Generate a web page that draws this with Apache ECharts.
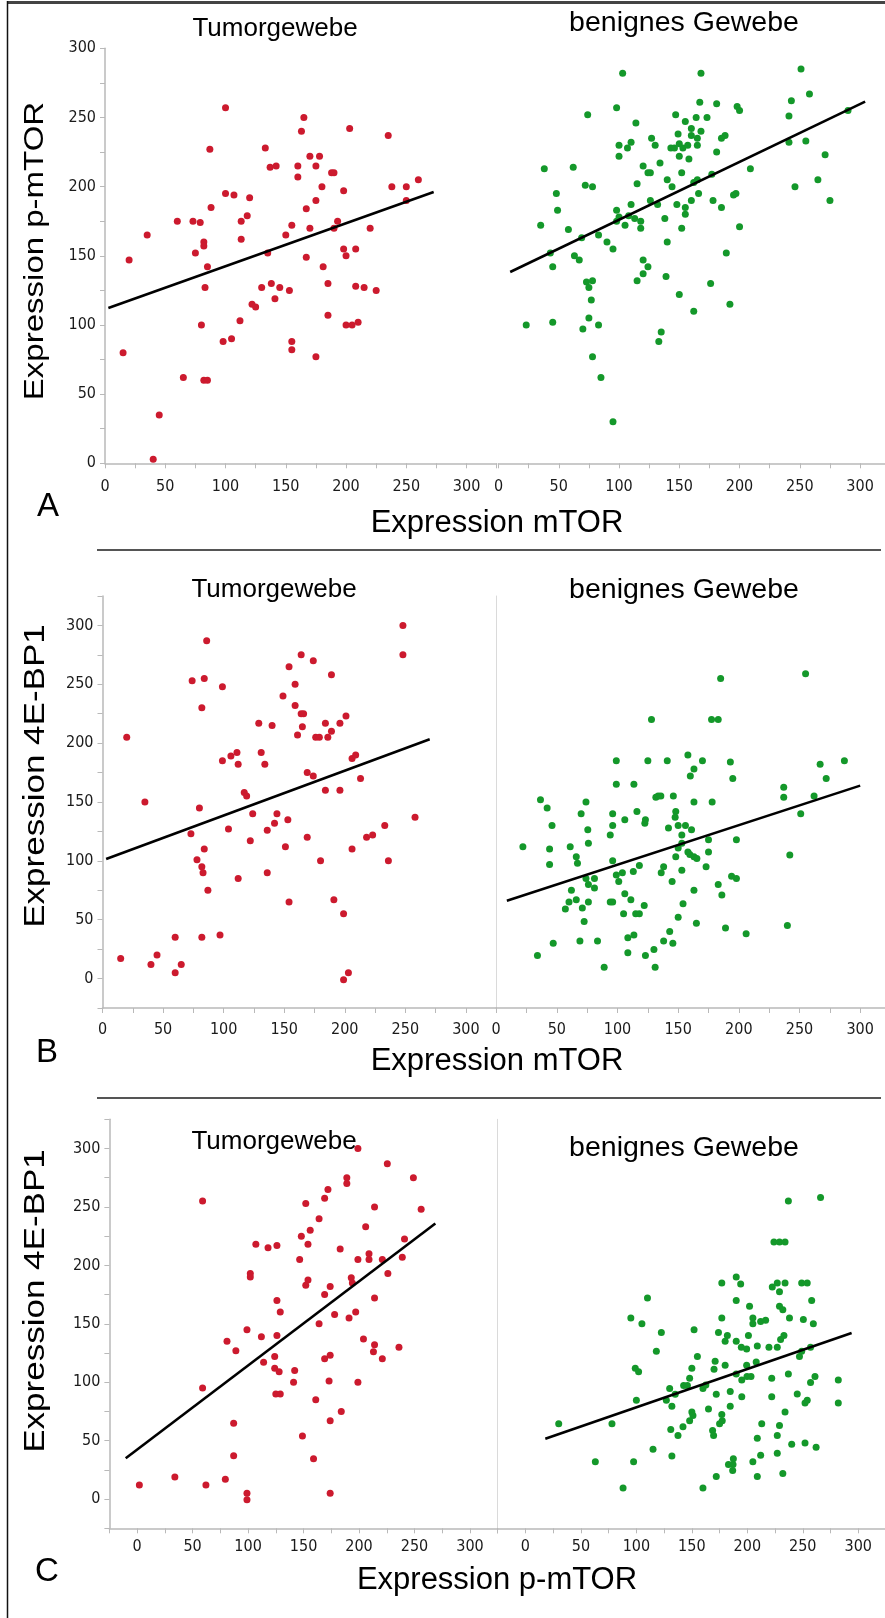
<!DOCTYPE html>
<html><head><meta charset="utf-8">
<script src="https://cdn.jsdelivr.net/npm/echarts@6/dist/echarts.min.js"></script>
<style>html,body{margin:0;padding:0;background:#fff}#c{width:885px;height:1618px}</style>
</head><body><div id="c"></div>
<script>
// ---- data (x, y) ----
const tumorA = [[100,257],[165,250],[163,240],[203,242],[235,237],[87,227],[133,228],[170,222],[178,222],[137,214],[142,215],[160,215],[175,215],[160,207],[188,210],[190,210],[180,200],[198,197],[238,200],[250,200],[260,205],[250,190],[100,195],[107,194],[120,192],[175,190],[88,185],[167,184],[60,175],[73,175],[79,174],[113,175],[118,179],[193,175],[190,170],[155,172],[170,170],[220,170],[35,165],[150,165],[82,160],[82,157],[113,162],[75,152],[135,152],[167,149],[198,155],[208,155],[200,150],[20,147],[85,142],[181,142],[83,127],[130,127],[138,130],[145,127],[153,125],[185,130],[208,128],[215,127],[225,125],[122,115],[125,113],[141,119],[185,107],[80,100],[112,103],[200,100],[205,100],[210,102],[98,88],[105,90],[155,88],[155,82],[175,77],[15,80],[65,62],[82,60],[85,60],[45,35],[40,3]];
const fitTumorA = [[2.8,112.3],[272.7,196.1]];

const benignA = [[103,282],[168,282],[251,285],[258,267],[243,262],[241,251],[290,255],[98,257],[74,252],[167,261],[181,260],[198,258],[200,255],[147,252],[155,247],[164,250],[173,250],[114,246],[160,242],[168,240],[160,237],[149,238],[165,235],[188,237],[185,235],[127,235],[110,232],[100,230],[107,228],[130,230],[143,228],[146,228],[150,231],[153,228],[157,230],[165,230],[100,222],[150,222],[158,220],[181,225],[241,232],[255,233],[271,223],[38,213],[62,214],[120,215],[124,210],[126,210],[134,217],[152,210],[177,209],[209,213],[72,201],[78,200],[115,202],[140,205],[144,200],[162,203],[165,205],[246,200],[265,205],[48,195],[166,195],[195,194],[197,195],[275,190],[49,183],[98,183],[110,187],[126,190],[132,187],[148,187],[160,190],[178,190],[185,185],[155,185],[155,180],[35,172],[58,169],[98,175],[100,178],[105,172],[108,179],[113,177],[118,175],[118,170],[138,177],[152,170],[200,171],[69,163],[83,165],[90,160],[95,155],[140,160],[43,152],[63,150],[67,147],[45,142],[120,147],[124,142],[120,137],[115,132],[139,135],[189,152],[73,131],[78,132],[75,127],[77,118],[176,130],[150,122],[192,115],[162,110],[23,100],[45,102],[75,105],[70,97],[83,100],[135,95],[133,88],[78,77],[85,62],[95,30]];
const fitBenignA = [[9.7,138.3],[304.2,261.5]];

const tumorB = [[248,300],[248,275],[86,287],[164,275],[174,270],[154,265],[189,258],[74,253],[84,255],[99,248],[159,250],[149,240],[82,230],[159,232],[164,225],[166,225],[129,217],[140,215],[165,214],[184,217],[196,217],[201,223],[161,207],[176,205],[179,205],[186,205],[189,210],[20,205],[99,185],[106,189],[111,192],[112,182],[131,192],[134,182],[206,187],[209,190],[169,175],[174,172],[213,170],[117,158],[119,155],[184,160],[196,160],[35,150],[80,145],[124,140],[144,140],[142,132],[153,135],[258,137],[233,130],[73,123],[104,127],[136,126],[122,117],[169,120],[218,120],[223,122],[151,112],[84,110],[206,110],[78,101],[180,100],[236,100],[82,95],[83,90],[136,90],[112,85],[87,75],[154,65],[191,67],[199,55],[60,35],[82,35],[97,37],[15,17],[40,12],[45,20],[65,12],[60,5],[199,-1],[203,5]];
const fitTumorB = [[3,101.5],[270.1,203.3]];

const benignB = [[255,259],[185,255],[128,220],[177.5,220],[183,220],[99,185],[125,185],[141,185],[158,190],[170,185],[193,184],[287,185],[267,182],[163,178],[160,172],[195,170],[272,170],[99,165],[113.5,165],[237,162.5],[237,154],[262,155],[36.5,152],[131.6,154],[133.5,155],[135.7,155],[146,155],[42,145],[74,150],[163,150],[178,150],[70,140],[96,140],[116,142],[148,142],[147.5,137],[251,140],[46,130],[96,130],[106,135],[122.5,132],[123,135],[142,128],[150,130],[156,130],[75.5,126.5],[94,122],[153,122],[161,126.5],[175,118],[198,118],[22,112],[44,110],[61,112],[76,115],[150,111],[153,115],[66,103.5],[44,97],[67,98],[96,100],[148,103.5],[158,107.5],[159.6,105.5],[163,103.5],[165.4,102],[175,107.5],[242,105],[118,96],[138,95],[136,90],[153,92],[173,95],[99,88],[104,90],[113,91],[74,85],[81,85],[76,80],[81,77],[101,82.5],[145,82.5],[194,87],[198,85],[62,75],[106,72],[111,67],[163,75],[183,80],[186,71],[60,65],[66,67],[76,65],[94,65],[96,65],[57,59],[71,60],[122,62],[154,63.5],[72.5,48.5],[105,55],[115,55],[118,55],[150,52],[165,47],[189,43],[206,38],[240,45],[47,30],[69,32],[83.5,32],[108.5,34.6],[113.5,37],[138,32],[143,40],[145.6,30],[34,19.6],[108.5,22],[123,19.6],[130,24.7],[89,9.6],[131,9.6]];
const fitBenignB = [[8.8,66.1],[300,163.9]];

const tumorC = [[199,300],[225.5,287],[189,275],[189,270],[249,275],[172,265],[169,257.5],[59,255],[152,253],[214,250],[256,248],[164,240],[206,233],[156,230],[148,225],[241,222.5],[107,218],[118,215],[126,217],[154,218],[183,214],[209,210],[209,205],[199,205],[221,205],[239,207],[146.5,205],[102,193],[102,190],[226,193],[154,187.5],[152,183],[174,182],[193,189.5],[194,185],[169,175],[214,172],[126,170],[129,160],[178,158],[191,155],[197,160],[164,150],[99,145],[112,139],[126,140],[81,135],[89,127],[204,137],[214,132],[213,126],[236,130],[221,120],[124,122],[169,120],[174,123],[114,117],[124,112],[128,109],[142,110],[141,100],[173,101],[199,100],[59,95],[125,90],[129,90],[161,85],[184,75],[174,67],[87,65],[149,54],[87,37],[159,34.5],[34,19],[79.5,17],[2,12],[62,12],[99,5],[99,-0.5],[174,5]];
const fitTumorC = [[-10.3,35],[268.8,235.9]];

const benignC = [[266,258],[237,255],[224,220],[229,220],[234,220],[190,190],[177,185],[194,184],[227,185],[234,185],[249,185],[254,185],[222.5,181.5],[229,177.5],[110,172],[190,170],[202,165],[258,170],[229,165],[232,162],[95,155],[105,150],[177,155],[205,155],[205,150],[212,152],[216.5,153],[238,155],[250.5,153.6],[259.5,150],[122.5,142.5],[152,145],[174,142.5],[182,140],[201,140],[233,140],[230,136.5],[180,135],[190,135],[118,126.5],[194.6,130],[199.4,128.5],[209,131],[219.5,130],[227,130],[249,126.5],[257,130],[247,122],[155,122],[99,112],[102,109],[150,112],[171,118],[170,111],[180,114.5],[199.4,114.5],[208,117.4],[190,107],[195,102],[199.7,104.8],[203.3,104.8],[222,103.4],[237,107],[261,104.8],[282,102],[148,103.4],[130,94.6],[142.6,97.2],[146,97.2],[160,94.6],[162.6,97.7],[135,89.7],[172,89.7],[184.6,92],[222,87.5],[245,90],[257,99.7],[100,84.6],[127,84.6],[132,79.5],[195,87.5],[184.6,79.5],[252,82.3],[254,84.6],[282,82.3],[165,77],[150,74.6],[151,71.5],[148,67],[177,72.4],[234,74.6],[175,64.4],[177.4,67],[142,62],[131,59.5],[137.5,54.4],[168.7,58.7],[169.6,54.4],[213,64.4],[229,63],[227,54.4],[209,52],[30,64.4],[78,64.4],[115,42.7],[132,36.8],[63,32],[97.5,32],[240,47],[252,48],[262,44.4],[227,39.3],[212,37.6],[205,32],[183,29.6],[187.4,34.5],[187.1,29.6],[186.8,24.5],[172,19.4],[209,19.4],[232,22],[88,9.4],[160,9.4]];
const fitBenignC = [[17.9,51.6],[294,142.2]];

const xTickLabels = [0,50,100,150,200,250,300];
const yTickLabels = [0,50,100,150,200,250,300];
const panelTitles = ['Tumorgewebe','benignes Gewebe'];
const xTitles = ['Expression mTOR','Expression mTOR','Expression p-mTOR'];
const yTitles = ['Expression p-mTOR','Expression 4E-BP1','Expression 4E-BP1'];
const rowLetters = ['A','B','C'];

// ---- styling ----
const RED = '#cc1a2e', GREEN = '#14982a';
const AXC = '#b9b9b9';
const tickFont = '"Liberation Sans Narrow","DejaVu Sans Condensed",sans-serif';

const grids = [
  {left:105,   top:48.3,  width:391.7, height:415},   // A tumor
  {left:498.5, top:48.3,  width:391.7, height:415},   // A benign
  {left:102.5, top:596,   width:393.7, height:412},   // B tumor
  {left:496.2, top:596,   width:394.3, height:412},   // B benign
  {left:109.4, top:1119.3,width:388.3, height:409},   // C tumor
  {left:497.7, top:1119.3,width:388.3, height:409}    // C benign
].map(g => Object.assign({containLabel:false, outerBoundsMode:'none'}, g));

const xRanges = [[0,325],[0,325],[0,325],[0,325],[-25,325],[-25,325]];
const yRanges = [[0,300],[0,300],[-25,325],[-25,325],[-25,325],[-25,325]];
const xLabelMargin = [16,16,14,14,11,11];

function xAxis(i){
  return {type:'value', gridIndex:i, min:xRanges[i][0], max:xRanges[i][1], interval:25,
    axisLine:{show:true, onZero:false, lineStyle:{color:AXC, width:1.5}},
    axisTick:{show:true, length:5, lineStyle:{color:AXC, width:1}},
    axisLabel:{margin:xLabelMargin[i], color:'#1a1a1a', fontFamily:tickFont, fontSize:16,
      formatter:v => xTickLabels.indexOf(v) >= 0 ? String(v) : ''},
    splitLine:{show:false}};
}
function yAxis(i){
  const left = i % 2 === 0;
  if (left) return {type:'value', gridIndex:i, min:yRanges[i][0], max:yRanges[i][1], interval:25,
    axisLine:{show:true, onZero:false, lineStyle:{color:AXC, width:1.5}},
    axisTick:{show:true, length:5, lineStyle:{color:AXC, width:1}},
    axisLabel:{margin:9, color:'#1a1a1a', fontFamily:tickFont, fontSize:16,
      formatter:v => yTickLabels.indexOf(v) >= 0 ? String(v) : ''},
    splitLine:{show:false}};
  return {type:'value', gridIndex:i, min:yRanges[i][0], max:yRanges[i][1], interval:25,
    axisLine:{show:i !== 1, onZero:false, lineStyle:{color:'#dadada', width:1}},
    axisTick:{show:false}, axisLabel:{show:false}, splitLine:{show:false}};
}

const pointSets = [tumorA, benignA, tumorB, benignB, tumorC, benignC];
const fitSets = [fitTumorA, fitBenignA, fitTumorB, fitBenignB, fitTumorC, fitBenignC];

const series = [];
pointSets.forEach((d, i) => {
  series.push({type:'scatter', xAxisIndex:i, yAxisIndex:i, data:d, symbol:'circle', symbolSize:7,
    itemStyle:{color: i % 2 === 0 ? RED : GREEN, opacity:1}, silent:true, z:2});
  series.push({type:'line', xAxisIndex:i, yAxisIndex:i, data:fitSets[i], symbol:'none',
    lineStyle:{color:'#000', width:2.6}, silent:true, z:3});
});

// ---- free text & frame ----
const T = (text, x, y, size, extra) => Object.assign({type:'text', x, y, silent:true,
  style:{text, font: size + 'px "Liberation Sans", Arial, sans-serif', fill:'#000',
    textAlign:'center', textVerticalAlign:'middle'}}, extra || {});
const L = (x1, y1, x2, y2, color, w) => ({type:'line', silent:true,
  shape:{x1, y1, x2, y2}, style:{stroke:color, lineWidth:w}});
const ROT = {rotation:Math.PI/2, scaleY:0.82};

const graphic = [
  L(7, 2.5, 885, 2.5, '#444', 3),
  L(7.5, 1, 7.5, 1618, '#111', 1.5),
  L(97, 550, 881, 550, '#555', 2),
  L(97, 1098, 881, 1098, '#555', 2),
  T(panelTitles[0], 275, 29, 26), T(panelTitles[1], 684, 23, 28.5),
  T(panelTitles[0], 274, 590, 26), T(panelTitles[1], 684, 590, 28.5),
  T(panelTitles[0], 274, 1142, 26), T(panelTitles[1], 684, 1148, 28.5),
  T(xTitles[0], 497, 523, 31), T(xTitles[1], 497, 1061, 31), T(xTitles[2], 497, 1580, 31),
  T(rowLetters[0], 48, 507, 33), T(rowLetters[1], 47, 1053, 33), T(rowLetters[2], 47, 1572, 33),
  T(yTitles[0], 36, 251, 33, ROT),
  T(yTitles[1], 36, 776, 35, ROT),
  T(yTitles[2], 36, 1301, 35, ROT)
];

const chart = echarts.init(document.getElementById('c'), null, {renderer:'canvas'});
chart.setOption({
  animation:false,
  backgroundColor:'#fff',
  grid: grids,
  xAxis: grids.map((g, i) => xAxis(i)),
  yAxis: grids.map((g, i) => yAxis(i)),
  series,
  graphic
});
</script>
</body></html>
